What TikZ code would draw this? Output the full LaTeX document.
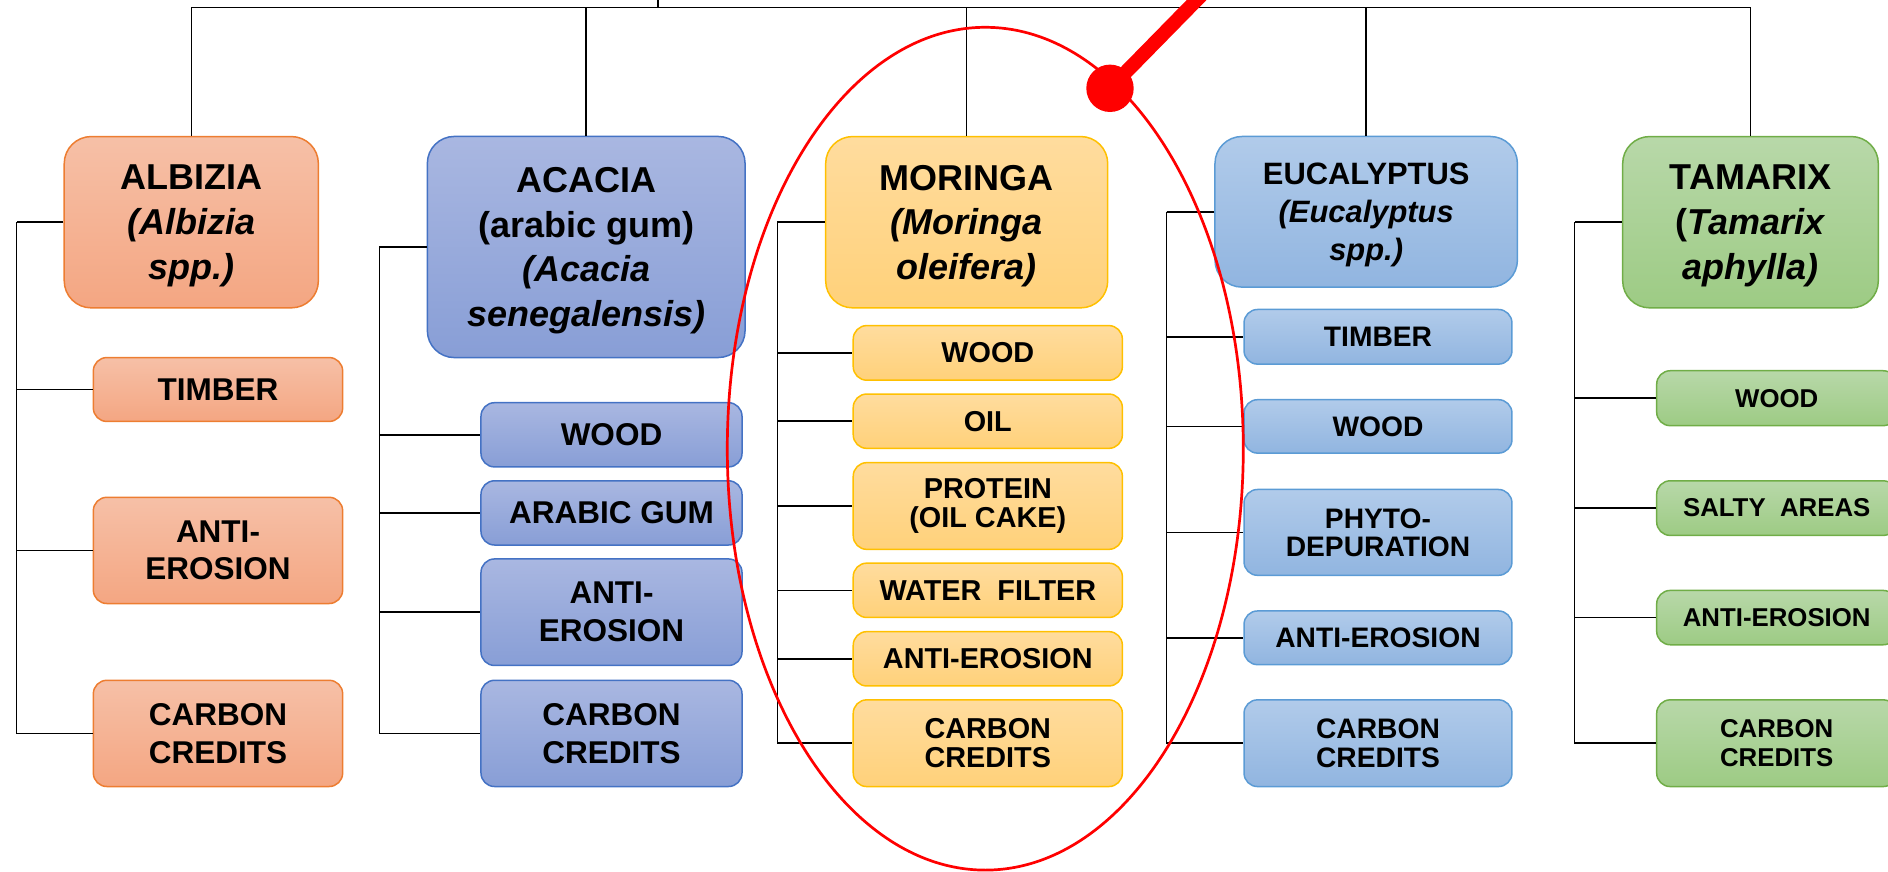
\documentclass[tikz,border=0pt]{standalone}
\usepackage{fontspec}
\setmainfont{Liberation Sans}
\usepackage{tikz}

% column colours
\definecolor{albTop}{HTML}{F6C0A7}
\definecolor{albBot}{HTML}{F4A682}
\definecolor{albLine}{HTML}{ED7D31}
\definecolor{acaTop}{HTML}{A9B7E1}
\definecolor{acaBot}{HTML}{889ED6}
\definecolor{acaLine}{HTML}{4472C4}
\definecolor{morTop}{HTML}{FFDC9E}
\definecolor{morBot}{HTML}{FFD17A}
\definecolor{morLine}{HTML}{FFC000}
\definecolor{eucTop}{HTML}{B1CBEA}
\definecolor{eucBot}{HTML}{91B5E0}
\definecolor{eucLine}{HTML}{5B9BD5}
\definecolor{tamTop}{HTML}{B8D8A9}
\definecolor{tamBot}{HTML}{9DCB84}
\definecolor{tamLine}{HTML}{70AD47}

\tikzset{
  head/.style={rounded corners=9pt, inner sep=0pt, align=center, line width=0.5pt,
    font=\bfseries\fontsize{12}{14.9}\selectfont, text depth=-0.6pt},
  item/.style={rounded corners=4.5pt, inner sep=0pt, align=center, line width=0.5pt},
  albizia/.style={top color=albTop, bottom color=albBot, draw=albLine},
  acacia/.style={top color=acaTop, bottom color=acaBot, draw=acaLine},
  moringa/.style={top color=morTop, bottom color=morBot, draw=morLine},
  eucal/.style={top color=eucTop, bottom color=eucBot, draw=eucLine},
  tamarix/.style={top color=tamTop, bottom color=tamBot, draw=tamLine},
  link/.style={black, line width=0.5pt}
}

\begin{document}
\begin{tikzpicture}[x=0.3333pt, y=-0.3333pt]

\path[use as bounding box] (0,0) rectangle (1888,872);

% species boxes
\node[head, albizia, minimum width=84.7pt, minimum height=57.1pt] (alb) at (191.3,222.2)
  {ALBIZIA\\\textit{(Albizia}\\\textit{spp.)}};
\node[head, acacia, minimum width=105.9pt, minimum height=73.7pt] (aca) at (586.2,247)
  {ACACIA\\(arabic gum)\\\textit{(Acacia}\\\textit{senegalensis)}};
\node[head, moringa, minimum width=94pt, minimum height=57.1pt] (mor) at (966.7,222.2)
  {MORINGA\\\textit{(Moringa}\\\textit{oleifera)}};
\node[head, eucal, minimum width=100.8pt, minimum height=50.2pt,
      font=\bfseries\fontsize{10.3}{12.8}\selectfont, text depth=0pt] (euc) at (1366.2,211.8)
  {EUCALYPTUS\\\textit{(Eucalyptus}\\\textit{spp.)}};
\node[head, tamarix, minimum width=85.2pt, minimum height=57.1pt] (tam) at (1750.5,222.2)
  {TAMARIX\\(\textit{Tamarix}\\\textit{aphylla)}};

% uses: albizia
\begin{scope}[every node/.style={item, albizia, minimum width=83.1pt,
    font=\bfseries\fontsize{10.5}{12.6}\selectfont}]
  \node[minimum height=21.3pt] (alb-timber) at (218,389.5) {TIMBER};
  \node[minimum height=35.4pt] (alb-erosion) at (218,550.4) {ANTI-\\EROSION};
  \node[minimum height=35.4pt] (alb-carbon) at (218,733.4) {CARBON\\CREDITS};
\end{scope}

% uses: acacia
\begin{scope}[every node/.style={item, acacia, minimum width=87pt,
    font=\bfseries\fontsize{10.5}{12.6}\selectfont}]
  \node[minimum height=21.4pt] (aca-wood) at (611.5,434.8) {WOOD};
  \node[minimum height=21.4pt] (aca-gum) at (611.5,512.9) {ARABIC GUM};
  \node[minimum height=35.5pt] (aca-erosion) at (611.5,612.2) {ANTI-\\EROSION};
  \node[minimum height=35.4pt] (aca-carbon) at (611.5,733.4) {CARBON\\CREDITS};
\end{scope}

% uses: moringa
\begin{scope}[every node/.style={item, moringa, minimum width=89.7pt,
    font=\bfseries\fontsize{9.6}{9.7}\selectfont}]
  \node[minimum height=18.2pt] (mor-wood) at (987.8,352.9) {WOOD};
  \node[minimum height=18.1pt] (mor-oil) at (987.8,421.2) {OIL};
  \node[minimum height=28.9pt] (mor-protein) at (987.8,506) {PROTEIN\\(OIL CAKE)};
  \node[minimum height=18.1pt] (mor-filter) at (987.8,590.3) {WATER\ \ FILTER};
  \node[minimum height=18.1pt] (mor-erosion) at (987.8,658.8) {ANTI-EROSION};
  \node[minimum height=28.9pt] (mor-carbon) at (987.8,743.2) {CARBON\\CREDITS};
\end{scope}

% uses: eucalyptus
\begin{scope}[every node/.style={item, eucal, minimum width=89.3pt,
    font=\bfseries\fontsize{9.4}{9.4}\selectfont}]
  \node[minimum height=18.2pt] (euc-timber) at (1378,336.8) {TIMBER};
  \node[minimum height=17.8pt] (euc-wood) at (1378,426.4) {WOOD};
  \node[minimum height=28.6pt] (euc-phyto) at (1378,532.4) {PHYTO-\\DEPURATION};
  \node[minimum height=17.9pt] (euc-erosion) at (1378,637.8) {ANTI-EROSION};
  \node[minimum height=28.9pt] (euc-carbon) at (1378,743.2) {CARBON\\CREDITS};
\end{scope}

% uses: tamarix
\begin{scope}[every node/.style={item, tamarix, minimum width=80pt,
    font=\bfseries\fontsize{8.6}{9.4}\selectfont}]
  \node[minimum height=18.3pt] (tam-wood) at (1776.7,398.2) {WOOD};
  \node[minimum height=18.2pt] (tam-salty) at (1776.7,508.1) {SALTY\ \ AREAS};
  \node[minimum height=18.1pt] (tam-erosion) at (1776.7,617.6) {ANTI-EROSION};
  \node[minimum height=28.9pt] (tam-carbon) at (1776.7,743.2) {CARBON\\CREDITS};
\end{scope}

% top bus
\coordinate (bus) at (657.8,7.3);
\coordinate (root) at (657.8,0);
\draw[link] (root) -- (bus);
\draw[link] (alb.north |- bus) -- (tam.north |- bus);
\foreach \h in {alb,aca,mor,euc,tam}
  \draw[link] (\h.north) -- (\h.north |- bus);

% side brackets
\foreach \h/\bx/\kids in {
    alb/16.7/{alb-timber,alb-erosion,alb-carbon},
    aca/379.3/{aca-wood,aca-gum,aca-erosion,aca-carbon},
    mor/777.3/{mor-wood,mor-oil,mor-protein,mor-filter,mor-erosion,mor-carbon},
    euc/1166.7/{euc-timber,euc-wood,euc-phyto,euc-erosion,euc-carbon},
    tam/1574.7/{tam-wood,tam-salty,tam-erosion,tam-carbon}} {
  \coordinate (\h-bar) at (\bx,0);
  \draw[link] (\h.west) -- (\h.west -| \h-bar);
  \foreach \k in \kids
    \draw[link] (\h.west -| \h-bar) |- (\k.west);
}

% red highlight
\draw[red, line width=0.9pt] (985.3,448.7) ellipse [x radius=258, y radius=421.4];
\coordinate (pin) at (1110,88.3);
\coordinate (pin-end) at (1228,-32);
\draw[red, line width=4.7pt] (pin) -- (pin-end);
\fill[red] (pin) circle [radius=23.7];

\end{tikzpicture}
\end{document}
